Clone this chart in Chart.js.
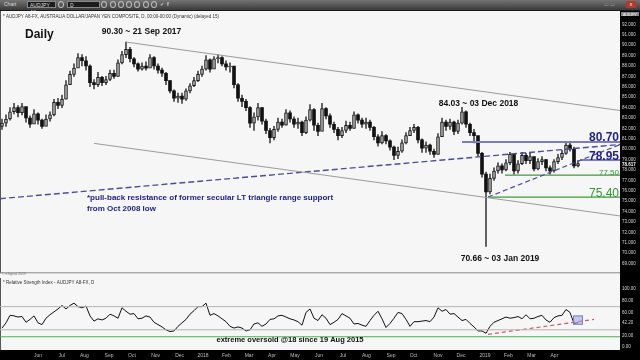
<!DOCTYPE html>
<html><head><meta charset="utf-8">
<script src="https://cdn.jsdelivr.net/npm/chart.js@4.4.1/dist/chart.umd.min.js"></script>
<style>
html,body{margin:0;padding:0;width:640px;height:360px;overflow:hidden;background:#f6f6f6;font-family:'Liberation Sans',Arial,sans-serif}
#bar{position:absolute;left:0;top:0;width:640px;height:10px;background:linear-gradient(#747474,#3a3a3a);border-bottom:1px solid #1a1a1a}
#bar span{position:absolute;top:1px;height:7px;font-size:5px;line-height:7px;color:#ddd}
.box{background:#1c1c1c;border:1px solid #888;box-sizing:border-box;padding-left:2px}
.ic{width:6px;border-radius:50%;border:1px solid #bbb;box-sizing:border-box}
#w1{position:absolute;left:0;top:11px}
#w2{position:absolute;left:0;top:278px}
</style></head><body>
<div id="bar">
 <span style="left:4px">Chart</span>
 <span class="box" style="left:27px;width:29px">AUDJPY A8 ▾</span>
 <span class="ic" style="left:58px"></span>
 <span class="box" style="left:67px;width:33px">D</span>
 <span class="ic" style="left:101px"></span>
 <span class="ic" style="left:110px"></span>
 <span class="ic" style="left:118px"></span>
 <span class="ic" style="left:126px"></span>
 <span class="ic" style="left:134px"></span>
 <span class="ic" style="left:143px"></span>
 <span class="ic" style="left:151px"></span>
 <span style="left:160px;font-weight:bold">✓</span>
 <span style="left:167px;font-weight:bold">f</span>
 <span style="left:604px;color:#999">▭ ▭</span>
 <span style="left:626px;width:10px;background:#b03a2e;color:#fff;text-align:center">x</span>
</div>
<div id="w1"><canvas id="c1" width="640" height="267"></canvas></div>
<div id="w2"><canvas id="c2" width="640" height="82"></canvas></div>
<script>
// ---- data (one sample ≈ 3-4 trading days) ----
const closes=[82.5,82.9,83.6,84.0,83.5,84.1,83.0,82.4,83.4,82.8, 82.2,82.9,83.3,84.5,84.2,84.8,86.2,87.2,87.8,88.8,
 88.5,88.0,86.4,86.2,86.9,86.4,86.7,87.3,87.0,88.3, 89.1,89.6,88.7,88.2,87.7,88.0,87.8,88.8,88.0,87.6,
 87.3,86.6,85.6,84.9,85.1,84.8,85.6,86.1,86.6,87.2, 87.7,88.6,87.7,88.7,88.8,88.2,87.9,88.0,86.2,84.9,
 84.6,84.0,82.5,83.1,84.0,82.7,81.8,81.1,81.9,82.6, 82.3,83.5,82.9,82.4,82.6,81.6,82.8,83.8,82.3,81.7,
 83.9,83.2,82.4,81.9,81.3,81.8,82.3,82.0,83.3,82.8, 82.4,82.6,82.1,81.2,80.6,81.3,80.8,80.2,79.4,79.8,
 80.6,81.3,81.8,82.1,80.9,80.1,80.4,79.8,79.5,81.2, 82.6,82.2,82.6,81.7,82.5,83.6,82.4,81.6,81.3,79.6,
 77.6,75.9,77.2,77.9,78.4,78.0,78.7,79.5,77.9,78.6, 79.4,78.9,79.3,78.1,78.8,79.0,78.2,77.9,78.8,79.2,
 79.6,80.4,80.0,78.4,78.62];
const highs=[82.9,83.3,84.0,84.4,84.2,84.4,84.0,83.2,83.8,83.5, 82.9,83.3,83.6,84.8,84.9,85.2,86.6,87.5,88.2,89.2,
 89.1,88.9,88.1,86.7,87.4,87.0,87.0,87.6,87.6,88.6, 89.4,90.3,89.8,88.8,88.3,88.3,88.4,89.1,88.9,88.2,
 87.8,87.4,86.6,85.7,85.4,85.4,85.8,86.3,86.9,87.5, 88.0,89.0,88.7,88.9,89.1,88.9,88.5,88.3,87.9,86.3,
 85.2,84.8,84.1,83.5,84.4,84.0,82.9,82.0,82.2,83.0, 82.9,83.8,83.7,83.1,83.0,82.7,83.1,84.3,83.9,82.5,
 84.4,84.0,83.4,82.6,82.1,82.1,82.7,82.6,83.6,83.4, 83.0,83.0,82.8,82.2,81.4,81.7,81.4,80.9,80.3,80.2,
 80.9,81.6,82.1,82.4,82.2,81.0,80.7,80.5,80.0,81.5, 83.0,82.8,82.9,82.7,82.8,84.03,83.7,82.5,81.9,81.2,
 79.7,77.8,77.6,78.2,78.7,78.6,79.0,79.7,79.4,78.9, 79.7,79.6,79.6,79.2,79.1,79.3,79.0,78.4,79.0,79.5,
 79.9,80.70,80.6,80.2,78.9];
const lows=[81.9,82.2,82.8,83.4,83.1,83.3,82.6,82.1,82.6,82.4, 82.0,82.3,82.7,83.2,83.9,84.0,84.8,86.3,87.0,87.9,
 88.0,87.6,86.0,85.8,86.0,86.1,86.2,86.6,86.8,87.0, 88.2,88.8,88.4,87.9,87.5,87.6,87.6,87.9,87.7,87.3,
 87.0,86.2,85.4,84.6,84.5,84.4,84.7,85.4,86.0,86.5, 87.0,87.6,87.4,87.8,88.3,88.0,87.6,87.4,85.9,84.6,
 84.1,83.7,82.1,81.8,82.8,82.4,81.5,80.6,80.9,81.7, 82.1,82.3,82.6,82.1,82.0,81.3,81.5,82.7,81.8,81.3,
 81.8,82.9,82.1,81.6,80.9,81.1,81.6,81.8,82.0,82.5, 82.1,82.0,81.8,80.9,80.3,80.5,80.5,79.9,79.0,79.1,
 79.7,80.5,81.3,81.6,80.6,79.7,79.7,79.5,79.2,79.5, 81.3,81.8,81.9,81.4,81.5,82.4,82.1,81.3,80.6,79.3,
 77.3,70.66,75.7,77.0,77.7,77.7,77.9,78.5,77.6,77.7, 78.5,78.6,78.6,77.9,78.0,78.5,77.9,77.6,77.8,78.6,
 79.0,79.5,79.8,78.2,78.3];
const firstOpen=82.2;
const rsi=[33,42,55,54,52,53,43,48,54,42, 39,50,56,61,66,72,66,72,76,70, 68,71,54,45,49,47,50,57,54,50,
 68,62,57,58,49,50,54,52,43,39, 35,30,27,28,36,42,48,57,63,70, 70,76,55,58,54,49,44,36,33,35,
 33,28,30,40,42,36,40,48,49,54, 55,52,49,47,44,38,60,66,50,46, 56,50,39,43,48,58,54,50,40,41,
 38,36,46,55,62,49,34,41,50,60, 58,48,36,44,44,45,46,44,52,68, 62,65,57,58,52,46,48,41,35,28,
 28,24,36,43,46,49,52,50,51,53, 49,56,49,50,53,55,47,43,51,54, 55,65,60,41,42.2];
const monthLabels=['Jun','Jul','Aug','Sep','Oct','Nov','Dec','2018','Feb','Mar','Apr','May','Jun','Jul','Aug','Sep','Oct','Nov','Dec','2019','Feb','Mar','Apr'];
const monthPos=[9,14.9,20.6,26.75,32.5,38.4,44.4,50.25,56.1,61.75,67.5,73.25,79.25,85.25,91.1,97.25,102.9,109,114.75,120.75,126.6,132.4,138.1];
const priceTicks=[69,70,71,72,73,74,75,76,77,78,79,80,81,82,83,84,85,86,87,88,89,90,91,92];
const rsiTicks=[0,20,42.2,60,80,100];
const lastPrice=78.617;
const upperChannel=[[31,90.3],[154.5,83.72]];
const lowerChannel=[[23,80.56],[154.5,73.58]];
const secularLine=[[-0.5,75.24],[154.5,80.45]];
const risingLine=[[121.5,75.4],[154.5,80.44]];
const blueLevels=[[115,80.70],[144.5,78.95]];
const greenLevels=[[125.75,77.50],[121.5,75.40]];
const rsiBands=[70,30];
const rsiOversold=18;
const rsiTrend=[[121.5,22.1],[148,47.9]];
const rsiBox=[[142.75,54.8],[145.25,38.7]];
const X_MIN=-0.5, X_MAX=154.5;

const FONT='"Liberation Sans", Arial, sans-serif';
const opens=closes.map((c,i)=>i===0?firstOpen:closes[i-1]);
const pts=a=>a.map(p=>({x:p[0],y:p[1]}));
const lineDs=(data,color,width,dash)=>({type:'line',data:pts(data),borderColor:color,borderWidth:width,borderDash:dash||[],pointRadius:0,fill:false,order:-1,tension:0});

const bgPlugin={id:'bg',beforeDraw(chart){
  const {ctx,chartArea:a,width,height}=chart;
  ctx.save();ctx.fillStyle='#f6f6f6';ctx.fillRect(0,0,width,height);
  ctx.fillStyle='#000';ctx.fillRect(a.right,0,width-a.right,height);
  if(chart.canvas.id==='c2'){ctx.fillRect(0,a.bottom,width,height-a.bottom);}
  ctx.fillStyle='#555';ctx.fillRect(0,0,1,a.bottom);
  ctx.restore();
}};

const yAxisFit=s=>{s.width=20;};

const c1=new Chart(document.getElementById('c1'),{
  type:'bar',
  data:{datasets:[
    {label:'wick',data:closes.map((c,i)=>({x:i,y:[lows[i],highs[i]]})),backgroundColor:'#444',barThickness:1,grouped:false,order:1},
    {label:'body',data:closes.map((c,i)=>({x:i,y:[opens[i],c]})),
      backgroundColor:ctx=>{const i=ctx.dataIndex;return closes[i]>=opens[i]?'#a9a9a9':'#111';},
      borderColor:'#1a1a1a',borderWidth:ctx=>{const i=ctx.dataIndex;return closes[i]>=opens[i]?1:0;},
      borderSkipped:false,barThickness:3,grouped:false,order:0},
    lineDs(upperChannel,'#9a9a9a',1),
    lineDs(lowerChannel,'#9a9a9a',1),
    lineDs(secularLine,'#4b4ba6',1.4,[6,3]),
    lineDs(risingLine,'#4b4ba6',1.2,[5,3]),
    lineDs([blueLevels[0],[X_MAX,blueLevels[0][1]]],'#7c7cc0',2),
    lineDs([blueLevels[1],[X_MAX,blueLevels[1][1]]],'#7c7cc0',2),
    lineDs([greenLevels[0],[X_MAX,greenLevels[0][1]]],'#3d9a3d',1.3),
    lineDs([greenLevels[1],[X_MAX,greenLevels[1][1]]],'#3d9a3d',1.3)
  ]},
  options:{responsive:false,animation:false,devicePixelRatio:1,layout:{padding:0},
    plugins:{legend:{display:false},tooltip:{enabled:false}},
    scales:{
      x:{type:'linear',min:X_MIN,max:X_MAX,offset:false,display:false},
      y:{type:'linear',position:'right',min:68.067,max:92.835,afterFit:yAxisFit,
        afterBuildTicks:s=>{s.ticks=priceTicks.map(v=>({value:v}));},
        grid:{display:false,drawTicks:false},border:{display:false},
        ticks:{color:'#d8d8d8',font:{size:4.5,family:FONT},padding:2,callback:v=>v.toFixed(3)}}
    }},
  plugins:[bgPlugin,{id:'ann',afterDraw(chart){
    const {ctx,chartArea:a,scales:{x,y}}=chart;
    ctx.save();
    ctx.fillStyle='#888';ctx.fillRect(0,a.bottom-1,a.right,1);
    ctx.textBaseline='alphabetic';
    ctx.fillStyle='#333';ctx.font='4.5px '+FONT;ctx.textAlign='left';
    ctx.fillText('* AUDJPY A8-FX, AUSTRALIA DOLLAR/JAPAN YEN COMPOSITE, D, 00:00-00:00 (Dynamic) (delayed 15)',3,7);
    ctx.fillStyle='#777';ctx.font='3.5px '+FONT;ctx.fillText('© eSignal 2019',2,264);
    ctx.fillStyle='#111';ctx.font='bold 12px '+FONT;ctx.fillText('Daily',25,27);
    ctx.font='bold 8.5px '+FONT;ctx.textAlign='center';
    ctx.fillText('90.30 ~ 21 Sep 2017',141.5,23);
    ctx.fillText('84.03 ~ 03 Dec 2018',478.5,95);
    ctx.fillText('70.66 ~ 03 Jan 2019',500,250);
    ctx.textAlign='left';ctx.fillStyle='#1c1c8c';ctx.font='bold 8px '+FONT;
    ctx.fillText('*pull-back resistance of former secular LT triangle range support',87,189);
    ctx.fillText('from Oct 2008 low',87,200);
    ctx.textAlign='right';
    ctx.fillStyle='#1f1f8f';ctx.font='bold 12px '+FONT;
    ctx.fillText('80.70',a.right-1,y.getPixelForValue(blueLevels[0][1])-1);
    ctx.fillText('78.95',a.right-1,y.getPixelForValue(blueLevels[1][1]));
    ctx.fillStyle='#2e9a2e';ctx.font='8px '+FONT;
    ctx.fillText('77.50',a.right-1,y.getPixelForValue(greenLevels[0][1]));
    ctx.font='12px '+FONT;
    ctx.fillText('75.40',a.right-1,y.getPixelForValue(greenLevels[1][1]));
    ctx.textAlign='left';ctx.fillStyle='#fff';ctx.font='bold 4.5px '+FONT;
    ctx.fillText(lastPrice.toFixed(3),a.right+2,y.getPixelForValue(lastPrice)+2);
    ctx.fillStyle='#888';ctx.fillRect(a.right+1,1,18,4);
    ctx.fillStyle='#fff';ctx.font='3.5px '+FONT;ctx.fillText('AUDJPY',a.right+3,4.5);
    ctx.restore();
  }}]
});

const c2=new Chart(document.getElementById('c2'),{
  type:'line',
  data:{datasets:[
    {data:rsi.map((v,i)=>({x:i,y:v})),borderColor:'#111',borderWidth:1,pointRadius:0,tension:0,fill:false,order:0},
    lineDs([[X_MIN,rsiBands[0]],[X_MAX,rsiBands[0]]],'#b4b4b4',1),
    lineDs([[X_MIN,rsiBands[1]],[X_MAX,rsiBands[1]]],'#b4b4b4',1),
    lineDs([[X_MIN,rsiOversold],[X_MAX,rsiOversold]],'#4caf50',1.2),
    lineDs(rsiTrend,'#d25a5a',1.2,[4,3])
  ]},
  options:{responsive:false,animation:false,devicePixelRatio:1,layout:{padding:0},
    plugins:{legend:{display:false},tooltip:{enabled:false}},
    scales:{
      x:{type:'linear',min:X_MIN,max:X_MAX,offset:false,afterFit:s=>{s.height=10;},
        afterBuildTicks:s=>{s.ticks=monthPos.map(v=>({value:v}));},
        grid:{display:false,drawTicks:false},border:{display:false},
        ticks:{autoSkip:false,maxRotation:0,color:'#bdbdbd',font:{size:5,family:FONT},padding:3,
          callback:(v,i)=>monthLabels[i]}},
      y:{type:'linear',position:'right',min:-4.84,max:111.29,afterFit:yAxisFit,
        afterBuildTicks:s=>{s.ticks=rsiTicks.map(v=>({value:v}));},
        grid:{display:false,drawTicks:false},border:{display:false},
        ticks:{color:'#d8d8d8',font:{size:4.5,family:FONT},padding:2,callback:v=>v.toFixed(2)}}
    }},
  plugins:[bgPlugin,{id:'ann2',afterDraw(chart){
    const {ctx,chartArea:a,scales:{x,y}}=chart;
    ctx.save();
    const bx=x.getPixelForValue(rsiBox[0][0]),by=y.getPixelForValue(rsiBox[0][1]);
    const bx2=x.getPixelForValue(rsiBox[1][0]),by2=y.getPixelForValue(rsiBox[1][1]);
    ctx.fillStyle='rgba(150,160,230,0.55)';ctx.fillRect(bx,by,bx2-bx,by2-by);
    ctx.strokeStyle='#7f7fc0';ctx.lineWidth=1;ctx.strokeRect(bx+0.5,by+0.5,bx2-bx-1,by2-by-1);
    ctx.fillStyle='#333';ctx.font='4.5px '+FONT;ctx.textAlign='left';
    ctx.fillText('* Relative Strength Index - AUDJPY A8-FX, D',3,6);
    ctx.fillStyle='#111';ctx.font='bold 7.5px '+FONT;ctx.textAlign='center';
    ctx.fillText('extreme oversold @18 since 19 Aug 2015',290,64);
    ctx.restore();
  }}]
});
</script>
</body></html>
